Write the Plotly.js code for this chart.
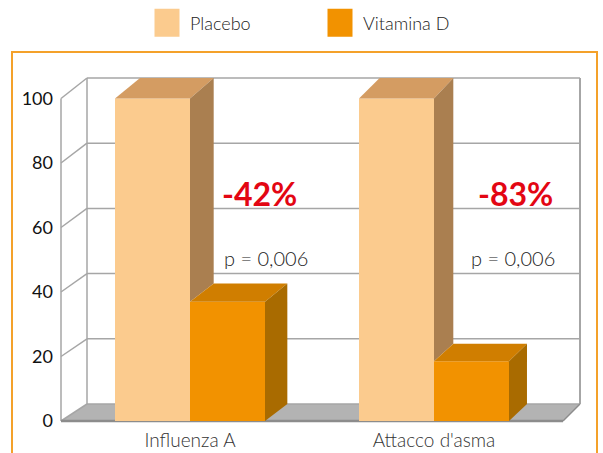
<!DOCTYPE html>
<html><head><meta charset="utf-8">
<script src="https://cdn.plot.ly/plotly-3.0.1.min.js"></script>
<style>html,body{margin:0;padding:0;background:#fff}#chart{width:603px;height:453px}</style>
</head><body><div id="chart"></div>
<script>
// ---- data ----
const categories = ['Influenza A', "Attacco d'asma"];
const seriesNames = ['Placebo', 'Vitamina D'];
const placebo = [100, 100];
const vitaminaD = [37, 18.5];
const yTickVals = [0, 20, 40, 60, 80, 100];
const yTickText = ['0', '20', '40', '60', '80', '100'];
const reductionLabels = ['-42%', '-83%'];
const pLabels = ['p = 0,006', 'p = 0,006'];

// ---- layout / projection constants ----
const W = 603, H = 453;
const M = {l: 56, r: 17, t: 70, b: 26, autoexpand: false};
const X0PX = 190, PXX = 244;
const Y0PX = 421, PXY = 3.225;
const xRange = [(M.l - X0PX) / PXX, (W - M.r - X0PX) / PXX];
const yRange = [-(H - M.b - Y0PX) / PXY, (Y0PX - M.t) / PXY];
const BW = 75 / PXX;
const FLOOR_X = [(61 - X0PX) / PXX, (563 - X0PX) / PXX];
function dX(x) { const px = X0PX + x * PXX; return (26 - 9 * (px - 61) / 502) / PXX; }
function dY(v) { return (17 + 3.5 * v / 100) / PXY; }
function back(x, v) { return [x + dX(x), v + dY(v)]; }
const pw = W - M.l - M.r, ph = H - M.t - M.b;
const pxX = px => (px - M.l) / pw;
const pxY = py => (H - M.b - py) / ph;
const redOffset = [0.285, 0.335];
const pOffset = [0.31, 0.325];

const colors = {
  front: ['#FBCB8E', '#F29200'],
  top: ['#D49C62', '#D07E00'],
  side: ['#AA7F50', '#A96B00']
};
const font = 'Lato, "Open Sans", sans-serif';
const catIdx = categories.map((c, i) => i);

// ---- front faces (bars) ----
const traces = [];
[placebo, vitaminaD].forEach((vals, s) => {
  traces.push({
    type: 'bar', name: seriesNames[s], x: catIdx, y: vals,
    width: catIdx.map(() => BW), offset: catIdx.map(() => s === 0 ? -BW : 0),
    marker: {color: colors.front[s], line: {width: 0}},
    hoverinfo: 'skip'
  });
});

function poly(pts, color) {
  return {type: 'scatter', mode: 'lines', x: pts.map(p => p[0]).concat(pts[0][0]),
    y: pts.map(p => p[1]).concat(pts[0][1]), fill: 'toself', fillcolor: color,
    line: {width: 0, color: color}, showlegend: false, hoverinfo: 'skip'};
}

// ---- top and side faces ----
catIdx.forEach(i => {
  [placebo, vitaminaD].forEach((vals, s) => {
    const x0 = i + (s === 0 ? -BW : 0), x1 = x0 + BW, h = vals[i];
    const base = s === 0 ? vitaminaD[i] : 0;
    traces.push(poly([[x0, h], [x1, h], back(x1, h), back(x0, h)], colors.top[s]));
    traces.push(poly([[x1, base], [x1, h], back(x1, h), back(x1, base)], colors.side[s]));
  });
});

// ---- walls / floor as shapes below traces ----
const shapes = [];
const gridColor = '#A6A6A6';
function seg(a, b, color, w) {
  return {type: 'line', xref: 'x', yref: 'y', x0: a[0], y0: a[1], x1: b[0], y1: b[1],
    line: {color: color, width: w}, layer: 'below'};
}
const fl = FLOOR_X[0], fr = FLOOR_X[1];
const bl0 = back(fl, 0), br0 = back(fr, 0);
shapes.push({type: 'path', xref: 'x', yref: 'y', layer: 'below',
  path: `M${fl},0 L${fr},0 L${br0[0]},${br0[1]} L${bl0[0]},${bl0[1]} Z`,
  fillcolor: '#B3B3B3', line: {width: 0}});
yTickVals.forEach(v => {
  shapes.push(seg(back(fl, v), back(fr, v), gridColor, 1.5));
  shapes.push(seg([fl, v], back(fl, v), gridColor, 1.5));
});
const vTop = yTickVals[yTickVals.length - 1];
shapes.push(seg([fl, 0], [fl, vTop], gridColor, 1.5));
shapes.push(seg(back(fl, 0), back(fl, vTop), gridColor, 1.5));
shapes.push(seg(back(fr, 0), back(fr, vTop), gridColor, 2));
shapes.push(seg(br0, [fr, 0], '#8C8C8C', 1.5));
shapes.push(seg([fl, 0], [fr, 0], '#8C8C8C', 2.5));
// orange frame
shapes.push({type: 'rect', xref: 'paper', yref: 'paper', layer: 'below',
  x0: pxX(12), x1: pxX(597), y0: pxY(470), y1: pxY(52),
  line: {color: '#F4A12A', width: 2}, fillcolor: 'rgba(0,0,0,0)'});

// ---- annotations ----
const annotations = [];
catIdx.forEach(i => {
  annotations.push({x: i + redOffset[i], y: 70.5, xref: 'x', yref: 'y', text: '<b>' + reductionLabels[i] + '</b>',
    showarrow: false, font: {family: font, size: 32, color: '#E30613'}});
  annotations.push({x: i + pOffset[i], y: 50.5, xref: 'x', yref: 'y', text: pLabels[i],
    showarrow: false, font: {family: font, size: 20, color: '#222', weight: 300}});
});

const layout = {
  width: W, height: H, margin: M, paper_bgcolor: '#fff', plot_bgcolor: '#fff',
  barmode: 'overlay', showlegend: true,
  legend: {orientation: 'h', x: pxX(147), y: pxY(23), xanchor: 'left', yanchor: 'middle',
    font: {family: font, size: 18, color: '#222', weight: 300}, entrywidth: 128, entrywidthmode: 'pixels',
    bgcolor: 'rgba(0,0,0,0)'},
  xaxis: {range: xRange, tickvals: catIdx, ticktext: categories, showgrid: false, zeroline: false,
    showline: false, ticks: '', ticklabelstandoff: 0,
    tickfont: {family: font, size: 19, color: '#333', weight: 300}},
  yaxis: {range: yRange, tickvals: yTickVals, ticktext: yTickText, showgrid: false, zeroline: false,
    showline: false, ticks: '', ticklabelstandoff: 2,
    tickfont: {family: font, size: 18, color: '#111'}},
  shapes: shapes, annotations: annotations
};

Plotly.newPlot('chart', traces, layout, {displayModeBar: false, staticPlot: true}).then(gd => {
  gd.querySelectorAll('.legend .legendpoints path').forEach(p => p.setAttribute('d', 'M12.5,14H-12.5V-14H12.5Z'));
  gd.querySelectorAll('.legend .legendtext').forEach(t => t.setAttribute('x', '43'));
});
</script>
</body></html>
